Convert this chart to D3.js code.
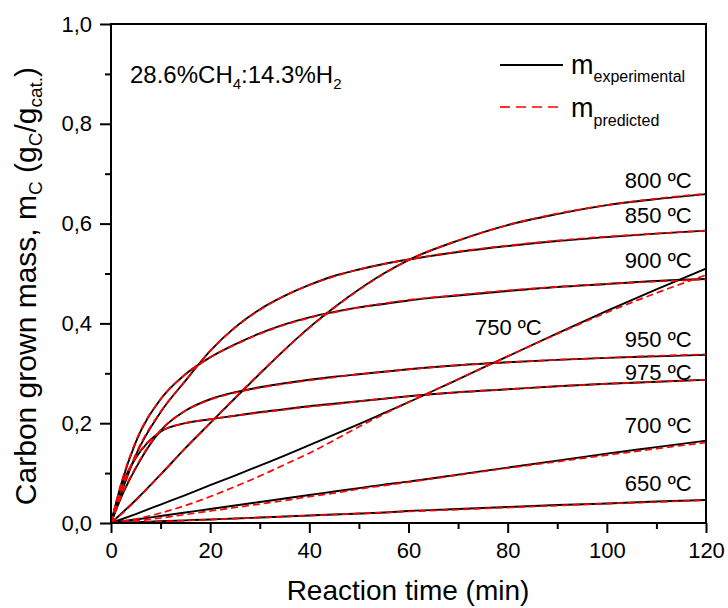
<!DOCTYPE html>
<html><head><meta charset="utf-8">
<script src="https://cdn.jsdelivr.net/npm/d3@7"></script>
<style>body{margin:0;background:#fff}svg{display:block;font-family:Arial,"Liberation Sans",sans-serif}</style>
</head><body><div id="chart"></div>
<script>
const times = [0,2,5,10,15,20,25,30,35,40,45,50,55,60,70,80,90,100,110,120];
const temps = ["650","700","750","800","850","900","950","975"];
const exp650 = [0,0.0007,0.0017,0.0035,0.0053,0.0071,0.009,0.011,0.013,0.015,0.017,0.019,0.021,0.024,0.028,0.032,0.036,0.039,0.043,0.046];
const exp700 = [0,0.003,0.007,0.014,0.021,0.028,0.035,0.042,0.049,0.056,0.063,0.07,0.077,0.083,0.097,0.111,0.125,0.139,0.152,0.165];
const exp750 = [0,0.007,0.018,0.037,0.056,0.076,0.095,0.115,0.135,0.156,0.177,0.198,0.22,0.242,0.288,0.334,0.38,0.425,0.468,0.51];
const exp800 = [0,0.018,0.046,0.097,0.15,0.2,0.25,0.299,0.347,0.392,0.432,0.468,0.5,0.527,0.566,0.597,0.619,0.637,0.649,0.659];
const exp850 = [0,0.058,0.136,0.222,0.285,0.345,0.392,0.428,0.455,0.477,0.495,0.508,0.519,0.528,0.543,0.555,0.565,0.573,0.58,0.586];
const exp900 = [0,0.076,0.162,0.248,0.298,0.332,0.358,0.38,0.398,0.412,0.423,0.432,0.439,0.446,0.456,0.465,0.473,0.479,0.485,0.489];
const exp950 = [0,0.05,0.11,0.185,0.225,0.248,0.262,0.272,0.28,0.287,0.293,0.298,0.303,0.308,0.316,0.322,0.327,0.331,0.334,0.337];
const exp975 = [0,0.07,0.13,0.183,0.2,0.208,0.215,0.222,0.228,0.234,0.239,0.244,0.249,0.254,0.262,0.268,0.274,0.279,0.283,0.287];
const pred650 = [0,0.0004,0.0012,0.003,0.0048,0.0067,0.0087,0.0107,0.0128,0.0149,0.017,0.019,0.021,0.023,0.027,0.031,0.035,0.039,0.042,0.046];
const pred700 = [0,0.001,0.004,0.01,0.017,0.024,0.031,0.038,0.045,0.053,0.06,0.068,0.075,0.082,0.096,0.11,0.123,0.136,0.149,0.161];
const pred750 = [0,0.003,0.008,0.02,0.035,0.053,0.073,0.094,0.117,0.14,0.166,0.193,0.218,0.242,0.288,0.334,0.379,0.422,0.461,0.497];
const pred800 = [0,0.017,0.045,0.097,0.15,0.2,0.251,0.3,0.347,0.391,0.431,0.467,0.499,0.527,0.566,0.597,0.62,0.637,0.65,0.66];
const pred850 = [0,0.06,0.138,0.223,0.285,0.345,0.391,0.427,0.455,0.477,0.494,0.508,0.519,0.528,0.544,0.556,0.566,0.574,0.58,0.586];
const pred900 = [0,0.078,0.164,0.248,0.298,0.332,0.357,0.379,0.397,0.411,0.422,0.432,0.44,0.447,0.457,0.466,0.473,0.479,0.484,0.488];
const pred950 = [0,0.052,0.112,0.186,0.225,0.247,0.261,0.271,0.279,0.286,0.292,0.298,0.303,0.308,0.316,0.322,0.327,0.331,0.335,0.338];
const pred975 = [0,0.071,0.131,0.183,0.2,0.208,0.215,0.221,0.227,0.233,0.238,0.244,0.249,0.254,0.262,0.268,0.274,0.279,0.283,0.287];
const expSeries = [exp650,exp700,exp750,exp800,exp850,exp900,exp950,exp975];
const predSeries = [pred650,pred700,pred750,pred800,pred850,pred900,pred950,pred975];
// temperature label anchors (time, mass) in data units
const labelT = [117.1,117.1,73.4,117.1,117.1,117.1,117.1,117.1];
const labelM = [0.065,0.181,0.377,0.671,0.601,0.511,0.353,0.287];
const labelAnchor = ["end","end","start","end","end","end","end","end"];
const xTicks = [0,20,40,60,80,100,120];
const yTicks = [0,0.2,0.4,0.6,0.8,1.0];

const W=728,H=608, m={l:111,t:24,r:22,b:85};
const svg=d3.select("#chart").append("svg").attr("width",W).attr("height",H);
const x=d3.scaleLinear().domain([0,120]).range([m.l,W-m.r]);
const y=d3.scaleLinear().domain([0,1]).range([H-m.b,m.t]);

const g=svg.append("g");
const line=d3.line().x((d,i)=>x(times[i])).y(d=>y(d)).curve(d3.curveMonotoneX);
expSeries.forEach(s=>{
  g.append("path").attr("d",line(s)).attr("fill","none").attr("stroke","#000").attr("stroke-width",1.9);
});
predSeries.forEach(s=>{
  g.append("path").attr("d",line(s)).attr("fill","none").attr("stroke","#ff0000").attr("stroke-width",1.7).attr("stroke-dasharray","7,4");
});

// temperature labels
temps.forEach((tp,i)=>{
  svg.append("text").attr("x",x(labelT[i])).attr("y",y(labelM[i])).attr("text-anchor",labelAnchor[i])
    .attr("font-size",22).attr("fill","#000").text(tp+" ºC");
});

// axes
const fmt=d=>d3.format(".1f")(d).replace(".",",");
const xAxis=d3.axisBottom(x).tickValues(xTicks).tickSize(10).tickPadding(9).tickFormat(d3.format("d"));
const xMinor=d3.axisBottom(x).tickValues(d3.range(10,120,20)).tickSize(6).tickFormat("");
const yAxis=d3.axisLeft(y).tickValues(yTicks).tickSize(11).tickPadding(8).tickFormat(fmt);
const yMinor=d3.axisLeft(y).tickValues(d3.range(0.1,1,0.2)).tickSize(6).tickFormat("");
function style(sel){sel.selectAll("path").remove();sel.selectAll("line").attr("stroke","#000").attr("stroke-width",2);sel.selectAll("text").attr("font-size",22).attr("fill","#000").attr("font-family","Arial, Liberation Sans, sans-serif");}
svg.append("g").attr("transform",`translate(0,${H-m.b})`).call(xAxis).call(style);
svg.append("g").attr("transform",`translate(0,${H-m.b})`).call(xMinor).call(style);
svg.append("g").attr("transform",`translate(${m.l},0)`).call(yAxis).call(style);
svg.append("g").attr("transform",`translate(${m.l},0)`).call(yMinor).call(style);
svg.append("rect").attr("x",m.l).attr("y",m.t).attr("width",W-m.r-m.l).attr("height",H-m.b-m.t)
  .attr("fill","none").attr("stroke","#000").attr("stroke-width",2);

// axis titles
svg.append("text").attr("x",408).attr("y",600).attr("text-anchor","middle").attr("font-size",28).text("Reaction time (min)");
const yl=svg.append("text").attr("transform","translate(36,286) rotate(-90)").attr("text-anchor","middle").attr("font-size",30);
yl.append("tspan").text("Carbon grown mass, m");
yl.append("tspan").attr("font-size",19).attr("dy",6).text("C");
yl.append("tspan").attr("dy",-6).text(" (g");
yl.append("tspan").attr("font-size",19).attr("dy",6).text("C");
yl.append("tspan").attr("dy",-6).text("/g");
yl.append("tspan").attr("font-size",19).attr("dy",6).text("cat.");
yl.append("tspan").attr("dy",-6).text(")");

// gas composition text
const gt=svg.append("text").attr("x",130).attr("y",83).attr("font-size",24);
gt.append("tspan").text("28.6%CH");
gt.append("tspan").attr("font-size",15).attr("dy",6).text("4");
gt.append("tspan").attr("dy",-6).text(":14.3%H");
gt.append("tspan").attr("font-size",15).attr("dy",6).text("2");

// legend
const lg=svg.append("g");
lg.append("line").attr("x1",500).attr("x2",563).attr("y1",65).attr("y2",65).attr("stroke","#000").attr("stroke-width",1.9);
lg.append("line").attr("x1",500).attr("x2",563).attr("y1",107).attr("y2",107).attr("stroke","#ff0000").attr("stroke-width",1.7).attr("stroke-dasharray","10,6");
const l1=lg.append("text").attr("x",571).attr("y",74).attr("font-size",27);
l1.append("tspan").text("m");
l1.append("tspan").attr("font-size",16).attr("dy",8).text("experimental");
const l2=lg.append("text").attr("x",571).attr("y",117).attr("font-size",27);
l2.append("tspan").text("m");
l2.append("tspan").attr("font-size",16).attr("dy",9).text("predicted");
</script></body></html>
